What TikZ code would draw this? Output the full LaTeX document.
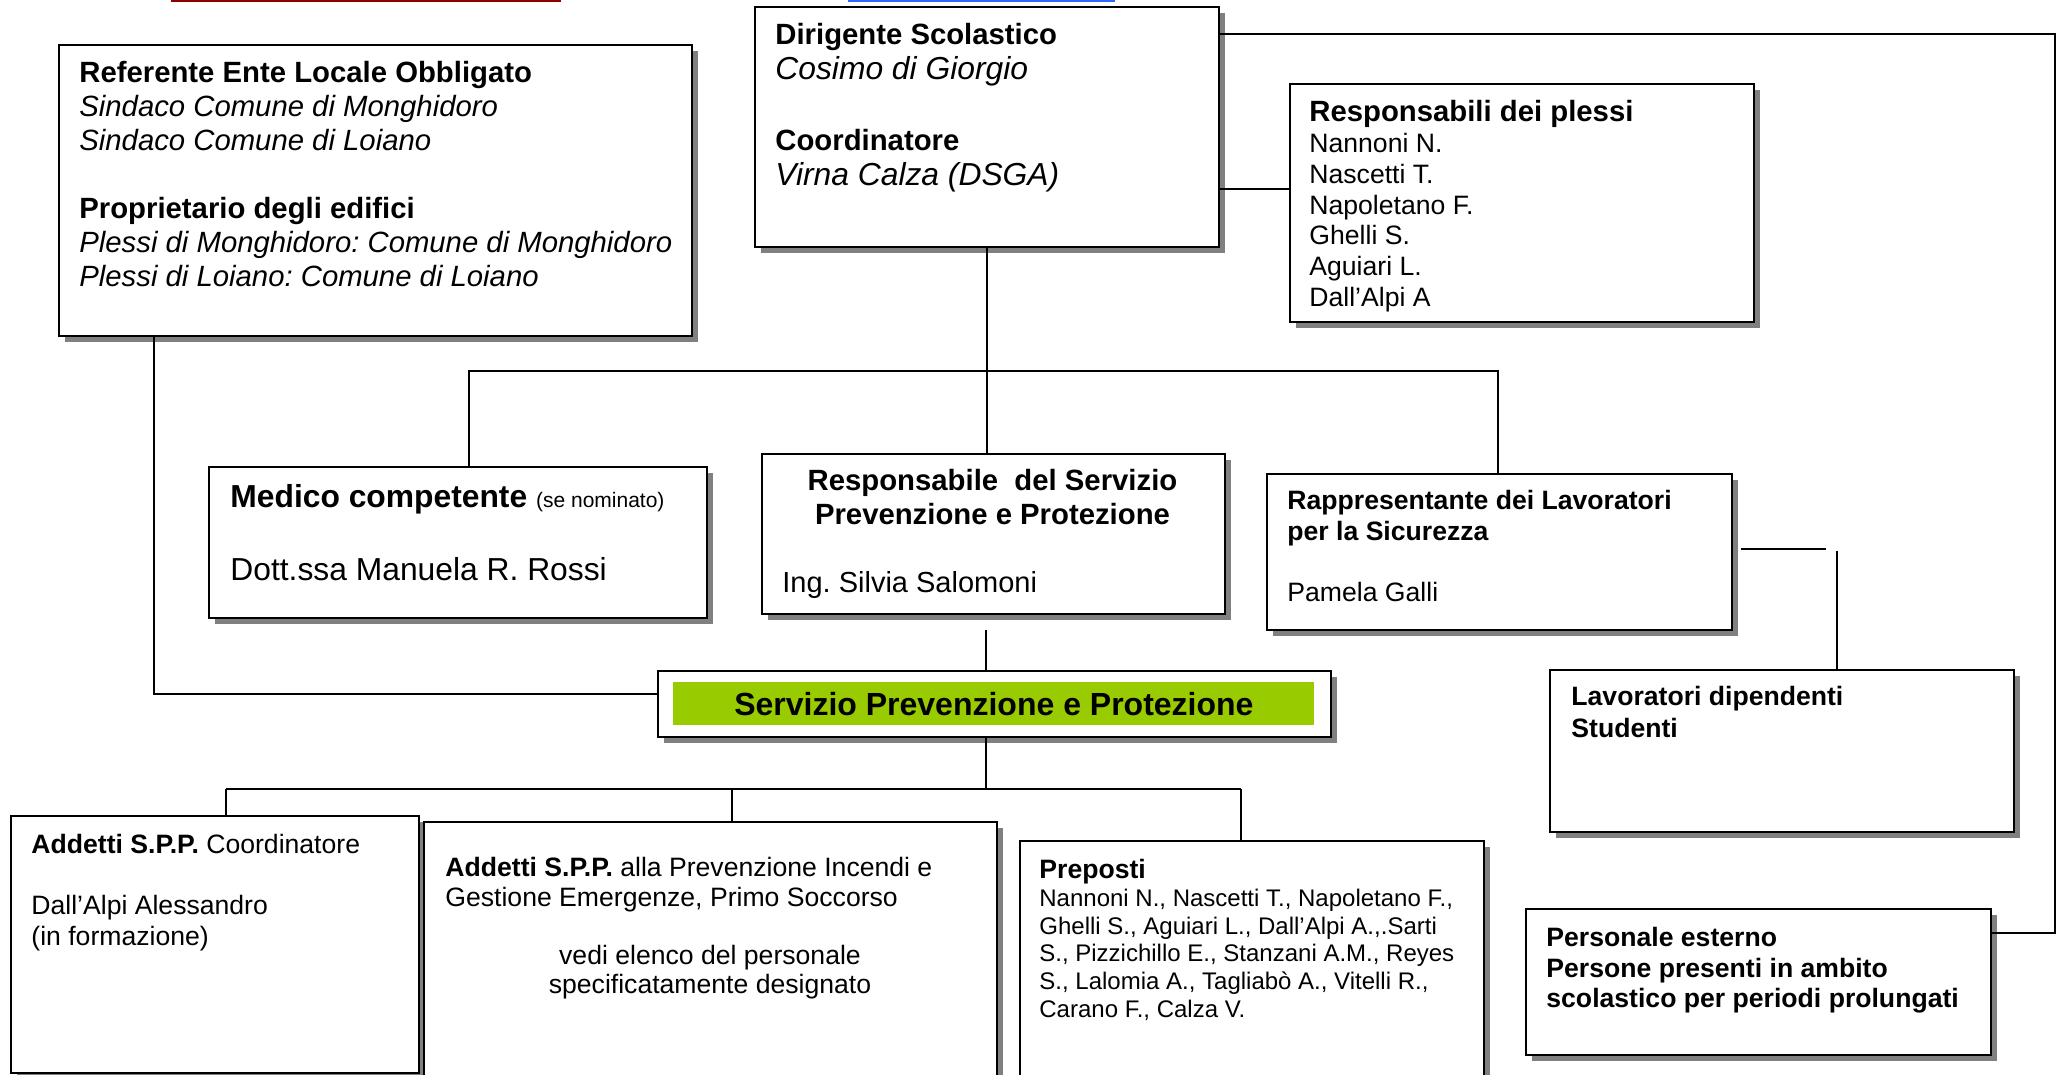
\documentclass[tikz,border=0pt]{standalone}
\usepackage{fontspec}
\setmainfont{Liberation Sans}
\usetikzlibrary{calc,shadows}
\definecolor{spgreen}{HTML}{99CC00}
\definecolor{shade}{HTML}{808080}
\definecolor{topred}{HTML}{8B0000}
\definecolor{topblue}{HTML}{3366FF}
\newcommand{\fsz}[2]{\fontsize{#1}{#2}\selectfont}
\frenchspacing
\tikzset{
  orgbox/.style 2 args={draw,line width=0.8pt,fill=white,anchor=north west,inner sep=0pt,minimum width=#1,minimum height=#2,
    drop shadow={shadow xshift=3pt,shadow yshift=-3pt,fill=shade,opacity=1}},
  txt/.style={anchor=north west,inner sep=0pt,align=left},
  link/.style={line width=0.7pt},
}

\begin{document}
\begin{tikzpicture}[x=0.5pt,y=-0.5pt]
\clip (0,0) rectangle (2061,1075);
\fill[topred] (171,0) rectangle (561,2.5);
\fill[topblue] (848,0) rectangle (1115,2.5);

\node[orgbox={316.5pt}{145.5pt}] (ref) at (58,44) {};
\node[orgbox={232pt}{120pt}] (dir) at (754,6) {};
\node[orgbox={232pt}{119pt}] (rp) at (1289,83) {};
\node[orgbox={249pt}{75.5pt}] (med) at (208,466) {};
\node[orgbox={231.5pt}{80pt}] (rspp) at (761,453) {};
\node[orgbox={232.5pt}{78pt}] (rls) at (1266,473) {};
\node[orgbox={336.5pt}{33pt}] (spp) at (657,670) {};
\node[fill=spgreen,anchor=north west,inner sep=0pt,minimum width=320.5pt,minimum height=21.5pt] (sppbar) at (673,682) {};
\node[orgbox={232pt}{81pt}] (lav) at (1549,669) {};
\node[orgbox={204pt}{128.5pt}] (asc) at (10,815) {};
\node[orgbox={286.5pt}{140pt}] (api) at (423,821) {};
\node[orgbox={232pt}{130pt}] (pre) at (1019,840) {};
\node[orgbox={232.5pt}{73pt}] (pe) at (1525,908) {};

\node[txt,font=\fsz{14.65}{17}] (ref-t) at (79,61)
  {\textbf{Referente Ente Locale Obbligato}\\\textit{Sindaco Comune di Monghidoro}\\\textit{Sindaco Comune di Loiano}\\[17pt]
   \textbf{Proprietario degli edifici}\\\textit{Plessi di Monghidoro: Comune di Monghidoro}\\\textit{Plessi di Loiano: Comune di Loiano}};
\node[txt,font=\fsz{14.65}{17.6}] (dir-t) at (775,23)
  {\textbf{Dirigente Scolastico}\\{\fsz{15.9}{17.6}\itshape Cosimo di Giorgio}\\[17.6pt]\textbf{Coordinatore}\\{\fsz{15.9}{17.6}\itshape Virna Calza (DSGA)}};
\node[txt,font=\fsz{13.3}{15.4}] (rp-t) at (1309,100)
  {{\fsz{14.65}{16}\bfseries Responsabili dei plessi}\\Nannoni N.\\Nascetti T.\\Napoletano F.\\Ghelli S.\\Aguiari L.\\Dall'Alpi A};
\node[txt,font=\fsz{15.9}{18.25}] (med-t) at (230,484)
  {\textbf{Medico competente} {\fsz{10.5}{12}(se nominato)}\\[18.25pt]Dott.ssa Manuela R. Rossi};
\node[anchor=north,inner sep=0pt,align=center,font=\fsz{14.65}{17}\bfseries] (rspp-t) at (992.5,469)
  {Responsabile~ del Servizio\\Prevenzione e Protezione};
\node[txt,font=\fsz{14.5}{17}] (rspp-n) at (782,571) {Ing. Silvia Salomoni};
\node[txt,font=\fsz{13.3}{15.25}] (rls-t) at (1287,490)
  {\textbf{Rappresentante dei Lavoratori}\\\textbf{per la Sicurezza}\\[15.5pt]Pamela Galli};
\node[inner sep=0pt,font=\fsz{16}{18}\bfseries] (spp-t) at (sppbar.center) {Servizio Prevenzione e Protezione};
\node[txt,font=\fsz{13.3}{16}\bfseries] (lav-t) at (1571,686) {Lavoratori dipendenti\\Studenti};
\node[txt,font=\fsz{13.3}{15.25}] (asc-t) at (31,834)
  {\textbf{Addetti S.P.P.} Coordinatore\\[15.25pt]Dall'Alpi Alessandro\\(in formazione)};
\node[txt,font=\fsz{13.3}{15}] (api-t) at (445,857)
  {\textbf{Addetti S.P.P.} alla Prevenzione Incendi e\\Gestione Emergenze, Primo Soccorso};
\node[anchor=north,inner sep=0pt,align=center,font=\fsz{13.3}{14.6}] (api-n) at (710,945)
  {vedi elenco del personale\\specificatamente designato};
\node[txt,font=\fsz{12}{13.85}] (pre-t) at (1039,859)
  {{\fsz{13.3}{15}\bfseries Preposti}\\Nannoni N., Nascetti T., Napoletano F.,\\Ghelli S., Aguiari L., Dall'Alpi A.,.Sarti\\
   S., Pizzichillo E., Stanzani A.M., Reyes\\S., Lalomia A., Tagliabò A., Vitelli R.,\\Carano F., Calza V.};
\node[txt,font=\fsz{13.3}{15.25}\bfseries] (pe-t) at (1546,927)
  {Personale esterno\\Persone presenti in ambito\\scolastico per periodi prolungati};

\coordinate (rim) at (2055,34);
\coordinate (peIn) at ($(pe.north east)+(0,25)$);
\coordinate (rpIn) at ($(rp.north west)+(0,106)$);
\coordinate (busL) at (469,371);
\coordinate (busR) at (1498,371);
\coordinate (sppTop) at (986,630);
\coordinate (refDn) at (154,694);
\coordinate (busB) at (986,789);
\coordinate (bbL) at (226,789);
\coordinate (bbM) at (732,789);
\coordinate (bbR) at (1241,789);
\coordinate (rlsOut) at (1741,549);
\coordinate (rlsEnd) at (1826,549);
\coordinate (lavUp) at (1837,551);

\draw[link] (dir.east |- rim) -- (rim) |- (peIn);
\draw[link] (rpIn) -- (rpIn -| dir.east);
\draw[link] (dir.south) -- (dir.south |- rspp.north);
\draw[link] (busL |- med.north) -- (busL) -- (busR) -- (busR |- rls.north);
\draw[link] (sppTop) -- (sppTop |- spp.north);
\draw[link] (refDn |- ref.south) -- (refDn) -- (refDn -| spp.west);
\draw[link] (busB |- spp.south) -- (busB);
\draw[link] (bbL) -- (bbR);
\foreach \b/\n in {bbL/asc,bbM/api,bbR/pre}
  \draw[link] (\b) -- (\b |- \n.north);
\draw[link] (rlsOut) -- (rlsEnd);
\draw[link] (lavUp) -- (lavUp |- lav.north);
\end{tikzpicture}
\end{document}
